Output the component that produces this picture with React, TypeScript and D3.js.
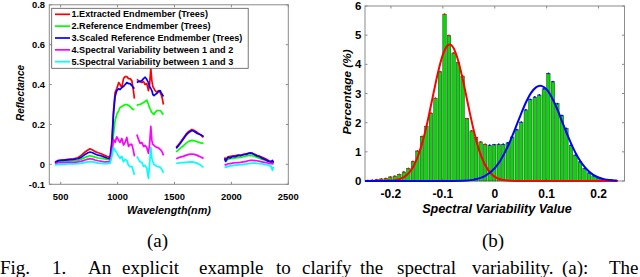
import React from 'react'
import * as d3 from 'd3'

// ---- panel (a): spectra ----
const wavelength = [450, 480, 520, 560, 611, 650, 680, 714, 740, 758, 780, 802, 830, 861, 885, 905, 934, 950, 964, 978, 993, 1010, 1022, 1037, 1052, 1066, 1081, 1096, 1110, 1125, 1139, 1148,
  1158,
  1169, 1184, 1198, 1213, 1228, 1242, 1257, 1271, 1281, 1292, 1301, 1310, 1320, 1330, 1345, 1359, 1374, 1383, 1393, 1403,
  1460,
  1515, 1530, 1550, 1575, 1600, 1625, 1653, 1675, 1700, 1730, 1755,
  1850,
  1940, 1950, 1970, 1990, 2010, 2035, 2060, 2080, 2105, 2130, 2150, 2166, 2185, 2205, 2225, 2250, 2270, 2290, 2310, 2330, 2350, 2360, 2370]

const extracted = [0.012, 0.02, 0.022, 0.025, 0.028, 0.033, 0.045, 0.062, 0.072, 0.078, 0.072, 0.064, 0.058, 0.052, 0.045, 0.04, 0.036, 0.12, 0.27, 0.36, 0.38, 0.41, 0.4, 0.385, 0.43, 0.44, 0.44, 0.43, 0.43, 0.42, 0.37, 0.33,
  null,
  0.426, 0.42, 0.415, 0.41, 0.415, 0.4, 0.405, 0.37, 0.4, 0.48, 0.42, 0.39, 0.38, 0.37, 0.36, 0.37, 0.36, 0.35, 0.33, 0.3,
  null,
  0.085, 0.095, 0.11, 0.13, 0.15, 0.165, 0.175, 0.17, 0.16, 0.148, 0.135,
  null,
  0.035, 0.025, 0.038, 0.04, 0.042, 0.044, 0.046, 0.047, 0.05, 0.053, 0.055, 0.058, 0.056, 0.05, 0.045, 0.04, 0.035, 0.03, 0.025, 0.018, 0.015, 0.02, 0.01]

const reference = [0.005, 0.012, 0.014, 0.016, 0.018, 0.02, 0.025, 0.035, 0.04, 0.043, 0.04, 0.036, 0.032, 0.03, 0.027, 0.025, 0.022, 0.06, 0.15, 0.22, 0.25, 0.27, 0.285, 0.29, 0.295, 0.3, 0.3, 0.295, 0.29, 0.28, 0.275, 0.275,
  null,
  0.295, 0.3, 0.3, 0.305, 0.31, 0.315, 0.322, 0.3, 0.285, 0.27, 0.26, 0.255, 0.25, 0.26, 0.27, 0.27, 0.27, 0.265, 0.255, 0.25,
  null,
  0.062, 0.07, 0.08, 0.092, 0.105, 0.115, 0.12, 0.118, 0.113, 0.108, 0.105,
  null,
  0.02, 0.018, 0.025, 0.028, 0.03, 0.032, 0.034, 0.035, 0.038, 0.042, 0.044, 0.045, 0.043, 0.04, 0.035, 0.03, 0.025, 0.022, 0.018, 0.014, 0.01, 0.012, 0.008]

const scaledRef = [0.008, 0.018, 0.02, 0.022, 0.025, 0.028, 0.035, 0.05, 0.058, 0.062, 0.058, 0.052, 0.046, 0.042, 0.036, 0.032, 0.028, 0.1, 0.25, 0.34, 0.37, 0.38, 0.375, 0.385, 0.39, 0.4, 0.41, 0.405, 0.405, 0.395, 0.385, 0.38,
  null,
  0.41, 0.415, 0.415, 0.42, 0.43, 0.437, 0.425, 0.41, 0.39, 0.38, 0.37, 0.35, 0.345, 0.35, 0.355, 0.365, 0.37, 0.36, 0.35, 0.34,
  null,
  0.08, 0.09, 0.105, 0.125, 0.145, 0.16, 0.17, 0.165, 0.155, 0.148, 0.14,
  null,
  0.03, 0.015, 0.035, 0.032, 0.04, 0.038, 0.045, 0.043, 0.048, 0.05, 0.055, 0.056, 0.054, 0.048, 0.042, 0.038, 0.03, 0.026, 0.02, 0.015, 0.012, 0.018, 0.008]

const variability12 = [0.003, 0.008, 0.008, 0.01, 0.01, 0.012, 0.015, 0.022, 0.026, 0.028, 0.026, 0.022, 0.018, 0.015, 0.012, 0.012, 0.014, 0.06, 0.125, 0.11, 0.138, 0.12, 0.11, 0.13, 0.097, 0.11, 0.135, 0.09, 0.1, 0.1, 0.07, 0.04,
  null,
  0.15, 0.125, 0.105, 0.11, 0.09, 0.095, 0.083, 0.055, 0.1, 0.19, 0.12, 0.1, 0.095, 0.09, 0.085, 0.083, 0.075, 0.07, 0.06, 0.045,
  null,
  0.028, 0.032, 0.036, 0.04, 0.045, 0.05, 0.052, 0.05, 0.045, 0.037, 0.03,
  null,
  0.0, -0.003, 0.003, 0.004, 0.006, 0.008, 0.009, 0.01, 0.012, 0.015, 0.018, 0.02, 0.02, 0.019, 0.018, 0.015, 0.012, 0.01, 0.008, 0.005, 0.003, 0.005, 0.0]

const variability13 = [-0.003, 0.0, 0.0, 0.002, 0.002, 0.003, 0.005, 0.01, 0.012, 0.014, 0.012, 0.01, 0.006, 0.005, 0.004, 0.004, 0.006, 0.04, 0.085, 0.07, 0.058, 0.04, 0.03, 0.04, 0.013, 0.025, 0.02, -0.005, -0.012, -0.01, -0.035, -0.053,
  null,
  0.04, 0.025, 0.013, 0.01, -0.01, -0.005, -0.02, -0.07, 0.0, 0.085, 0.03, 0.013, 0.0, -0.005, -0.01, -0.012, -0.015, -0.02, -0.03, -0.043,
  null,
  0.005, 0.006, 0.008, 0.009, 0.01, 0.011, 0.012, 0.01, 0.005, -0.005, -0.015,
  null,
  -0.012, -0.015, -0.01, -0.008, -0.006, -0.004, -0.003, -0.002, 0.0, 0.002, 0.004, 0.005, 0.006, 0.006, 0.005, 0.003, 0.002, 0.0, -0.002, -0.006, -0.01, -0.03, -0.012]

const legendLabels = [
  '1.Extracted Endmember (Trees)',
  '2.Reference Endmember (Trees)',
  '3.Scaled Reference Endmember (Trees)',
  '4.Spectral Variability between 1 and 2',
  '5.Spectral Variability between 1 and 3',
]
const lineColors = ['#ff0000', '#00ff00', '#0000ff', '#ff00ff', '#00ffff']
const specXTicks = [500, 1000, 1500, 2000, 2500]
const specYTicks = [-0.1, 0, 0.2, 0.4, 0.6, 0.8]

// ---- panel (b): histogram ----
const binStart = -0.2447
const binWidth = 0.0087
const percentage = [0.02, 0.03, 0.05, 0.07, 0.09, 0.14, 0.17, 0.23, 0.31, 0.43, 0.67, 1.03, 1.53, 1.88, 2.33, 2.84, 3.75, 5.72, 4.99, 4.39,
  4.06, 3.6, 2.14, 1.72, 1.49, 1.34, 1.26, 1.23, 1.25, 1.26, 1.26, 1.31, 1.51, 1.76, 2.02, 2.44, 2.8, 2.88, 2.95, 3.16,
  3.69, 3.41, 2.65, 2.25, 1.8, 1.23, 0.89, 0.66, 0.43, 0.28, 0.18, 0.11, 0.07, 0.05, 0.03, 0.02]

const redFitX = [-0.25, -0.22, -0.2, -0.19, -0.18, -0.17, -0.16, -0.15, -0.14, -0.13, -0.12, -0.11, -0.1, -0.09, -0.087, -0.08, -0.07, -0.06, -0.05, -0.04, -0.03, -0.02, -0.01, 0, 0.01, 0.02, 0.03, 0.05, 0.237]
const redFitY = [0, 0.002, 0.013, 0.036, 0.088, 0.2, 0.4, 0.76, 1.29, 2.0, 2.84, 3.67, 4.33, 4.66, 4.68, 4.58, 4.1, 3.35, 2.5, 1.7, 1.05, 0.6, 0.31, 0.14, 0.06, 0.024, 0.008, 0, 0]
const blueFitX = [-0.25, -0.1, -0.06, -0.04, -0.02, 0, 0.01, 0.02, 0.03, 0.04, 0.05, 0.06, 0.07, 0.08, 0.0874, 0.09, 0.1, 0.11, 0.12, 0.13, 0.14, 0.15, 0.16, 0.17, 0.18, 0.19, 0.2, 0.21, 0.22, 0.235]
const blueFitY = [0, 0, 0.011, 0.047, 0.16, 0.44, 0.68, 1.0, 1.38, 1.82, 2.27, 2.69, 3.02, 3.22, 3.27, 3.26, 3.14, 2.86, 2.48, 2.03, 1.58, 1.17, 0.82, 0.55, 0.35, 0.21, 0.12, 0.064, 0.033, 0.01]

const histXTicks = [-0.2, -0.1, 0, 0.1, 0.2]
const histYTicks = [0, 1, 2, 3, 4, 5, 6]

const captionWords = ['Fig.', '1.', 'An', 'explicit', 'example', 'to', 'clarify', 'the', 'spectral', 'variability.', '(a):', 'The']
const captionX = [0, 52, 88, 122, 199, 276, 302, 360, 397, 472, 562, 609]

const sans = '"Liberation Sans", Arial, Helvetica, sans-serif'
const serif = '"Liberation Serif", "Times New Roman", serif'
const frame = '#8a8a8a'

export default function App() {
  // scales for (a)
  const xS = d3.scaleLinear().domain([400, 2500]).range([49.3, 288.3])
  const yS = d3.scaleLinear().domain([-0.1, 0.8]).range([184.3, 4.8])
  const series = [extracted, reference, scaledRef, variability12, variability13]
  const line = d3.line<[number, number | null]>()
    .defined(d => d[1] != null)
    .x(d => xS(d[0]))
    .y(d => yS(d[1] as number))

  // scales for (b)
  const xH = d3.scaleLinear().domain([-0.25, 0.25]).range([365, 624.5])
  const yH = d3.scaleLinear().domain([0, 6]).range([181, 6])
  const fit = d3.line<[number, number]>().x(d => xH(d[0])).y(d => yH(d[1])).curve(d3.curveMonotoneX)
  const redPts = redFitX.map((x, i) => [x, redFitY[i]] as [number, number])
  const bluePts = blueFitX.map((x, i) => [x, blueFitY[i]] as [number, number])

  const [ax0, ax1] = xS.range()
  const [ay0, ay1] = yS.range()
  const [hx0, hx1] = xH.range()
  const [hy0, hy1] = yH.range()
  const tk = 2.5

  return (
    <svg width={640} height={277} style={{ position: 'absolute', left: 0, top: 0, background: '#fff' }}>
      {/* ---------- (a) ---------- */}
      <rect x={ax0} y={ay1} width={ax1 - ax0} height={ay0 - ay1} fill="#fff" stroke={frame} strokeWidth={1} />
      {specXTicks.map(t => (
        <g key={'sx' + t}>
          <line x1={xS(t)} x2={xS(t)} y1={ay0} y2={ay0 - tk} stroke={frame} />
          <line x1={xS(t)} x2={xS(t)} y1={ay1} y2={ay1 + tk} stroke={frame} />
          <text x={xS(t)} y={196} textAnchor="middle" dominantBaseline="central" fontFamily={sans} fontWeight="bold" fontSize={9.4}>{t}</text>
        </g>
      ))}
      {specYTicks.map(t => (
        <g key={'sy' + t}>
          <line x1={ax0} x2={ax0 + tk} y1={yS(t)} y2={yS(t)} stroke={frame} />
          <line x1={ax1} x2={ax1 - tk} y1={yS(t)} y2={yS(t)} stroke={frame} />
          <text x={45} y={yS(t)} textAnchor="end" dominantBaseline="central" fontFamily={sans} fontWeight="bold" fontSize={9.4}>{String(t)}</text>
        </g>
      ))}
      {series.map((s, k) => (
        <path key={'ln' + k}
          d={line(wavelength.map((w, i) => [w, s[i]] as [number, number | null])) || ''}
          fill="none" stroke={lineColors[k]} strokeWidth={1.7} strokeLinejoin="round" />
      ))}
      <text x={169} y={210} textAnchor="middle" dominantBaseline="central" fontFamily={sans} fontWeight="bold" fontStyle="italic" fontSize={10.8}>Wavelength(nm)</text>
      <text transform="translate(20,93) rotate(-90)" textAnchor="middle" dominantBaseline="central" fontFamily={sans} fontWeight="bold" fontStyle="italic" fontSize={10}>Reflectance</text>

      {/* legend */}
      <rect x={51.7} y={8.3} width={196.5} height={60} fill="#fff" stroke="#555" strokeWidth={0.8} />
      {legendLabels.map((lab, i) => (
        <g key={'lg' + i}>
          <line x1={55} x2={70} y1={14.3 + i * 11.85} y2={14.3 + i * 11.85} stroke={lineColors[i]} strokeWidth={1.7} />
          <text x={71.5} y={14.3 + i * 11.85} dominantBaseline="central" fontFamily={sans} fontWeight="bold" fontSize={9.1}>{lab}</text>
        </g>
      ))}

      {/* ---------- (b) ---------- */}
      <rect x={hx0} y={hy1} width={hx1 - hx0} height={hy0 - hy1} fill="#fff" stroke={frame} strokeWidth={1} />
      {histXTicks.map(t => (
        <g key={'hx' + t}>
          <line x1={xH(t)} x2={xH(t)} y1={hy0} y2={hy0 - tk} stroke={frame} />
          <line x1={xH(t)} x2={xH(t)} y1={hy1} y2={hy1 + tk} stroke={frame} />
          <text x={xH(t)} y={194} textAnchor="middle" dominantBaseline="central" fontFamily={sans} fontWeight="bold" fontSize={12}>{String(t)}</text>
        </g>
      ))}
      {histYTicks.map(t => (
        <g key={'hy' + t}>
          <line x1={hx0} x2={hx0 + tk} y1={yH(t)} y2={yH(t)} stroke={frame} />
          <line x1={hx1} x2={hx1 - tk} y1={yH(t)} y2={yH(t)} stroke={frame} />
          <text x={361.5} y={yH(t)} textAnchor="end" dominantBaseline="central" fontFamily={sans} fontWeight="bold" fontSize={11.5}>{t}</text>
        </g>
      ))}
      {percentage.map((v, i) => {
        const c = binStart + i * binWidth
        const x0 = xH(c - binWidth * 0.38)
        const x1 = xH(c + binWidth * 0.38)
        return (
          <g key={'b' + i}>
            <rect x={x0} y={yH(v)} width={x1 - x0} height={yH(0) - yH(v)} fill="#00dd00" stroke="#2a2a2a" strokeWidth={0.5} />
            <circle cx={xH(c)} cy={yH(v)} r={0.9} fill={c < -0.01 ? '#ff0000' : '#0000ff'} />
          </g>
        )
      })}
      <path d={fit(redPts) || ''} fill="none" stroke="#ff0000" strokeWidth={2} />
      <path d={fit(bluePts) || ''} fill="none" stroke="#0000ff" strokeWidth={2} />
      <text x={497} y={209} textAnchor="middle" dominantBaseline="central" fontFamily={sans} fontWeight="bold" fontStyle="italic" fontSize={12.6}>Spectral Variability Value</text>
      <text transform="translate(346.5,92) rotate(-90)" textAnchor="middle" dominantBaseline="central" fontFamily={sans} fontWeight="bold" fontStyle="italic" fontSize={11.8}>Percentage (%)</text>

      {/* captions */}
      <text x={157.5} y={247} textAnchor="middle" fontFamily={serif} fontSize={19}>(a)</text>
      <text x={493} y={247} textAnchor="middle" fontFamily={serif} fontSize={19}>(b)</text>
      {captionWords.map((w, i) => (
        <text key={'cw' + i} x={captionX[i]} y={274} fontFamily={serif} fontSize={19}>{w}</text>
      ))}
    </svg>
  )
}
